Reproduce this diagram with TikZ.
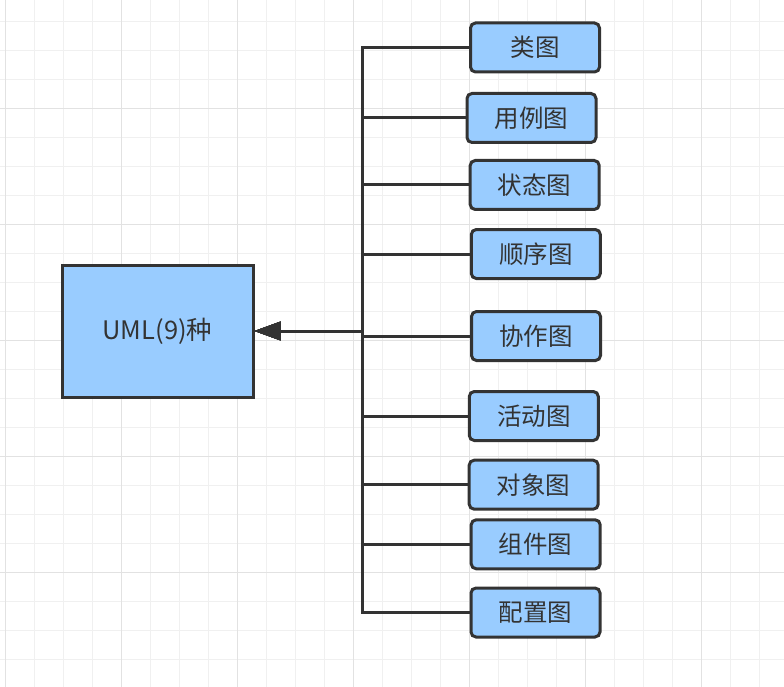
\documentclass[tikz,border=0pt]{standalone}
\usepackage{fontspec}
\setmainfont{Noto Sans CJK SC}
\usetikzlibrary{arrows.meta}
\definecolor{boxfill}{HTML}{99CCFF}
\definecolor{ink}{HTML}{333333}
\definecolor{gridminor}{HTML}{F0F0F0}
\definecolor{gridmajor}{HTML}{E2E2E2}
\tikzset{
  umlbox/.style={draw=ink, fill=boxfill, line width=3pt, inner sep=0pt,
    minimum width=191pt, minimum height=132pt, text=ink,
    font=\fontsize{25.5}{30}\selectfont},
  kindbox/.style={draw=ink, fill=boxfill, line width=3pt, rounded corners=5pt,
    inner sep=0pt, minimum width=129pt, minimum height=49pt, text=ink,
    font=\fontsize{24.5}{29}\selectfont},
  link/.style={draw=ink, line width=3pt},
}
\begin{document}
\begin{tikzpicture}[x=1pt, y=-1pt]
      \useasboundingbox[fill=white] (0,0) rectangle (784,687);
      % grid
      \foreach \x in {5.3,34.3,...,784} \draw[gridminor, line width=1pt] (\x,0) -- (\x,687);
      \foreach \y in {21.3,50.3,...,687} \draw[gridminor, line width=1pt] (0,\y) -- (784,\y);
      \foreach \x in {5.3,121.3,...,784} \draw[gridmajor, line width=1pt] (\x,0) -- (\x,687);
      \foreach \y in {108.3,224.3,...,687} \draw[gridmajor, line width=1pt] (0,\y) -- (784,\y);

      \node[umlbox] (uml) at (157.5,331) {UML(9)种};
      \coordinate (trunk) at (362,331);

      \node[kindbox] (class) at (535,47.5) {类图};
      \node[kindbox] (usecase) at (531.5,118) {用例图};
      \node[kindbox] (state) at (534.7,185) {状态图};
      \node[kindbox] (sequence) at (535.8,254) {顺序图};
      \node[kindbox] (collab) at (536,336) {协作图};
      \node[kindbox] (activity) at (533.8,416) {活动图};
      \node[kindbox] (object) at (533.7,484.7) {对象图};
      \node[kindbox] (component) at (535.7,544.3) {组件图};
      \node[kindbox] (deploy) at (535.5,612.5) {配置图};

      \foreach \n in {class,usecase,state,sequence,collab,activity,object,component,deploy}
        \draw[link, -{Triangle[length=26pt,width=18pt]}] (\n.west) -| (trunk) -- (uml.east);
    \end{tikzpicture}
\end{document}
